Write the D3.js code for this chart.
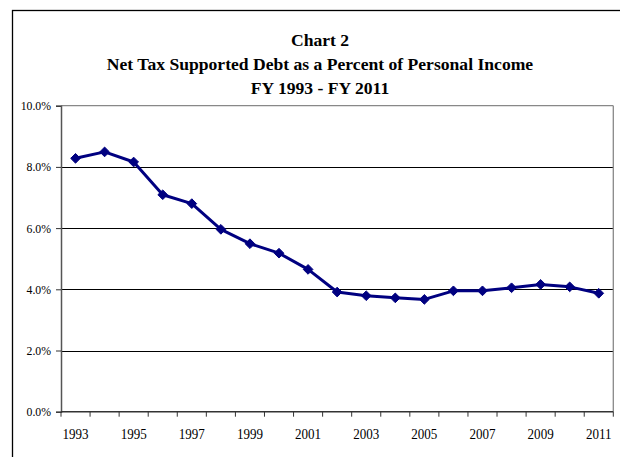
<!DOCTYPE html>
<html><head><meta charset="utf-8">
<script src="https://cdn.jsdelivr.net/npm/d3@7"></script>
<style>
html,body{margin:0;padding:0;background:#fff;}
svg{display:block;}
</style></head>
<body>
<svg id="chart" width="620" height="457"></svg>
<script>
const years = ["1993","1994","1995","1996","1997","1998","1999","2000","2001","2002","2003","2004","2005","2006","2007","2008","2009","2010","2011"];
const debtPct = [8.28,8.49,8.16,7.09,6.80,5.96,5.49,5.18,4.65,3.91,3.79,3.72,3.67,3.95,3.95,4.05,4.16,4.08,3.87];
const yTicks = [0,2,4,6,8,10];
const xLabels = ["1993","1995","1997","1999","2001","2003","2005","2007","2009","2011"];
const titleLines = ["Chart 2","Net Tax Supported Debt as a Percent of Personal Income","FY 1993 - FY 2011"];

const FONT = "Liberation Serif";
const svg = d3.select("#chart");

// outer frame
svg.append("rect").attr("x",12.5).attr("y",10.5).attr("width",615).attr("height",460)
  .attr("fill","none").attr("stroke","#000").attr("stroke-width",1.3);

// title
svg.append("g").selectAll("text").data(titleLines).join("text")
  .attr("x",320).attr("y",(d,i)=>46+i*24)
  .attr("text-anchor","middle").attr("font-family",FONT).attr("font-weight","bold")
  .attr("font-size",17.6).attr("fill","#000").text(d=>d);

const L=61, R=613.3, T=105.7, B=411.7;
const x = d3.scaleBand().domain(years).range([L,R]).paddingInner(0).paddingOuter(0);
const y = d3.scaleLinear().domain([0,10]).range([B,T]);

// gridlines
svg.append("g").selectAll("line").data(yTicks.filter(v=>v>0 && v<10)).join("line")
  .attr("x1",L).attr("x2",R).attr("y1",d=>Math.round(y(d))+0.5).attr("y2",d=>Math.round(y(d))+0.5)
  .attr("stroke","#000").attr("stroke-width",1);

// plot frame top/right (gray)
svg.append("line").attr("x1",L).attr("x2",R).attr("y1",T).attr("y2",T).attr("stroke","#888").attr("stroke-width",1.3);
svg.append("line").attr("x1",R).attr("x2",R).attr("y1",T).attr("y2",B).attr("stroke","#888").attr("stroke-width",1.3);

// y axis (ticks via d3 axis, labels drawn separately)
const yAxis = d3.axisLeft(y).tickValues(yTicks).tickFormat("").tickSize(5);
const gy = svg.append("g").attr("transform",`translate(${L},0)`).call(yAxis);
gy.select(".domain").attr("stroke","#555").attr("stroke-width",1.5);
gy.selectAll(".tick line").attr("stroke","#333");
svg.append("g").selectAll("text").data(yTicks).join("text")
  .attr("transform",d=>`translate(${L-10},${y(d)+4.5}) scale(0.87,1)`)
  .attr("text-anchor","end").attr("font-family",FONT).attr("font-size",13.5)
  .attr("fill","#000").text(d=>d.toFixed(1)+"%");

// x axis (category with ticks between categories)
const xBoundaries = years.map((d,i)=>x(d)).concat([R]);
const gx = svg.append("g");
gx.append("line").attr("x1",L).attr("x2",R).attr("y1",B).attr("y2",B).attr("stroke","#333").attr("stroke-width",1.5);
gx.selectAll("line.tk").data(xBoundaries).join("line").attr("class","tk")
  .attr("x1",d=>d).attr("x2",d=>d).attr("y1",B).attr("y2",B+5).attr("stroke","#333").attr("stroke-width",1);
gx.selectAll("text").data(xLabels).join("text")
  .attr("transform",d=>`translate(${x(d)+x.bandwidth()/2},439) scale(0.87,1)`)
  .attr("text-anchor","middle").attr("font-family",FONT).attr("font-size",15)
  .attr("fill","#000").text(d=>d);

// line
const pts = years.map((yr,i)=>({yr, v:debtPct[i]}));
const line = d3.line().x(d=>x(d.yr)+x.bandwidth()/2).y(d=>y(d.v));
svg.append("path").datum(pts).attr("d",line).attr("fill","none")
  .attr("stroke","#000080").attr("stroke-width",3).attr("stroke-linejoin","round");

// diamond markers
const diamond = d3.symbol().type(d3.symbolDiamond2).size(60);
svg.append("g").selectAll("path").data(pts).join("path")
  .attr("d",diamond)
  .attr("transform",d=>`translate(${x(d.yr)+x.bandwidth()/2},${y(d.v)})`)
  .attr("fill","#000080").attr("stroke","#000080");
</script>
</body></html>
